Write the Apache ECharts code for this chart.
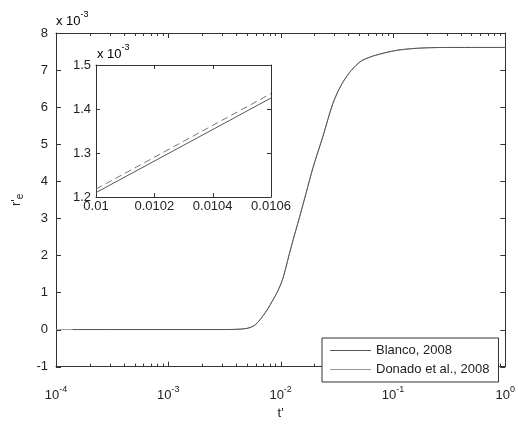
<!DOCTYPE html>
<html><head><meta charset="utf-8">
<script src="https://cdn.jsdelivr.net/npm/echarts@6/dist/echarts.min.js"></script>
<style>html,body{margin:0;padding:0;background:#fff}#c{width:518px;height:425px}</style>
</head><body><div id="c"></div>
<script>
// Main curve (t', r'_e in units of 1e-3)
const blancoT = [1.4e-4, 3e-4, 1e-3, 2e-3, 3e-3, 4e-3, 5e-3, 5.7e-3, 6.3e-3, 7e-3, 7.7e-3, 8.55e-3, 9.3e-3, 0.01, 0.0106, 0.01245, 0.0148, 0.0169, 0.0194, 0.0238, 0.0292, 0.0347, 0.041, 0.0486, 0.054, 0.07, 0.107, 0.15, 0.2, 0.3, 0.5, 1];
const blancoV = [0, 0, 0, 0, 0, 0.005, 0.03, 0.09, 0.2, 0.38, 0.56, 0.8, 1.0, 1.21, 1.425, 2.24, 3.05, 3.69, 4.36, 5.21, 6.1, 6.6, 6.93, 7.17, 7.27, 7.4, 7.53, 7.58, 7.6, 7.61, 7.61, 7.61];
const donadoT = [1e-4, 3e-4, 1e-3, 2e-3, 3e-3, 4e-3, 5e-3, 5.7e-3, 6.3e-3, 7e-3, 7.7e-3, 8.55e-3, 9.3e-3, 0.01, 0.0106, 0.01245, 0.0148, 0.0169, 0.0194, 0.0238, 0.0292, 0.0347, 0.041, 0.0486, 0.054, 0.07, 0.107, 0.15, 0.2, 0.3, 0.5, 1];
const donadoV = [0, 0, 0, 0, 0, 0.005, 0.03, 0.09, 0.2, 0.38, 0.56, 0.8, 1.0, 1.218, 1.435, 2.25, 3.06, 3.7, 4.37, 5.22, 6.1, 6.6, 6.93, 7.17, 7.27, 7.4, 7.53, 7.58, 7.6, 7.61, 7.61, 7.61];
// Inset (zoom near t' = 0.01)
const insetT = [0.01, 0.0106];
const insetBlanco = [1.21, 1.425];
const insetDonado = [1.218, 1.435];
const seriesNames = ['Blanco, 2008', 'Donado et al., 2008'];
// Tick positions
const mainXTicks = [1e-4, 1e-3, 1e-2, 1e-1, 1];
const mainXMinor = [2e-4, 3e-4, 4e-4, 5e-4, 6e-4, 7e-4, 8e-4, 9e-4,
                    2e-3, 3e-3, 4e-3, 5e-3, 6e-3, 7e-3, 8e-3, 9e-3,
                    0.02, 0.03, 0.04, 0.05, 0.06, 0.07, 0.08, 0.09,
                    0.2, 0.3, 0.4, 0.5, 0.6, 0.7, 0.8, 0.9];
const mainYTicks = [-1, 0, 1, 2, 3, 4, 5, 6, 7, 8];
const insetXTicks = [0.01, 0.0102, 0.0104, 0.0106];
const insetYTicks = [1.2, 1.3, 1.4, 1.5];

const zip = (a, b) => a.map((x, i) => [x, b[i]]);
const txt = '#222', ax = '#333';
const FONT = 'Liberation Sans, Arial, sans-serif';

const supRich = () => ({
  b: {fontSize: 13, fontFamily: FONT, color: txt, lineHeight: 16},
  s: {fontSize: 9, fontFamily: FONT, color: txt, verticalAlign: 'top', lineHeight: 22}
});
const axLine = () => ({show: true, onZero: false, lineStyle: {color: ax}});

// Draws inward ticks on all four sides of a grid through the axes' own scales
function tickRenderer(xMajor, xMinor, yMajor, xRef, yRef, majLen, minLen) {
  return function (params, api) {
    const cs = params.coordSys;
    const L = cs.x, R = cs.x + cs.width, T = cs.y, B = cs.y + cs.height;
    const kids = [];
    const seg = (x1, y1, x2, y2) => kids.push({type: 'line', silent: true,
      shape: {x1, y1, x2, y2}, style: {stroke: ax, lineWidth: 1}});
    xMajor.forEach(v => { const p = Math.round(api.coord([v, yRef])[0]) + 0.5; seg(p, B, p, B - majLen); seg(p, T, p, T + majLen); });
    xMinor.forEach(v => { const p = Math.round(api.coord([v, yRef])[0]) + 0.5; seg(p, B, p, B - minLen); seg(p, T, p, T + minLen); });
    yMajor.forEach(v => { const p = Math.round(api.coord([xRef, v])[1]) + 0.5; seg(L, p, L + majLen, p); seg(R, p, R - majLen, p); });
    return {type: 'group', children: kids};
  };
}

const chart = echarts.init(document.getElementById('c'));
chart.setOption({
  animation: false,
  grid: [
    {left: 56, top: 33, right: 12, bottom: 39},
    {left: 96, top: 65, width: 175, height: 132}
  ],
  legend: {
    data: seriesNames, orient: 'vertical', left: 322, top: 338, icon: 'rect',
    padding: [5, 9, 5, 8], itemGap: 4, itemWidth: 41, itemHeight: 1,
    borderColor: ax, borderWidth: 1, backgroundColor: '#fff', borderRadius: 0,
    textStyle: {fontSize: 13, color: txt, fontFamily: FONT, lineHeight: 15}
  },
  xAxis: [
    {type: 'log', min: 1e-4, max: 1,
     name: "t'", nameLocation: 'middle', nameGap: 25, nameTextStyle: {fontSize: 13, color: txt, fontFamily: FONT},
     axisLine: axLine(), axisTick: {show: false}, minorTick: {show: false}, splitLine: {show: false},
     axisLabel: {margin: 8, padding: [10, 0, 0, 0], formatter: v => '{b|10}{s|' + Math.round(Math.log10(v)) + '}', rich: supRich()}},
    {type: 'log', min: 1e-4, max: 1, position: 'top',
     axisLine: axLine(), axisTick: {show: false}, splitLine: {show: false}, axisLabel: {show: false}},
    {type: 'value', gridIndex: 1, min: 0.01, max: 0.0106, interval: 0.0002,
     axisLine: axLine(), axisTick: {show: false}, splitLine: {show: false},
     axisLabel: {fontSize: 13, color: txt, fontFamily: FONT, margin: 3}},
    {type: 'value', gridIndex: 1, min: 0.01, max: 0.0106, interval: 0.0002, position: 'top',
     axisLine: axLine(), axisTick: {show: false}, splitLine: {show: false}, axisLabel: {show: false}}
  ],
  yAxis: [
    {type: 'value', min: -1, max: 8, interval: 1,
     name: "{a|r'}{b|e}", nameLocation: 'middle', nameRotate: 90, nameGap: 19,
     nameTextStyle: {rich: {a: {fontSize: 13, color: txt, fontFamily: FONT, lineHeight: 18}, b: {fontSize: 10, color: txt, fontFamily: FONT, verticalAlign: 'bottom', lineHeight: 12}}},
     axisLine: axLine(), axisTick: {show: false}, splitLine: {show: false},
     axisLabel: {fontSize: 13, color: txt, fontFamily: FONT, margin: 8}},
    {type: 'value', min: -1, max: 8, interval: 1, position: 'right',
     axisLine: axLine(), axisTick: {show: false}, splitLine: {show: false}, axisLabel: {show: false}},
    {type: 'value', gridIndex: 1, min: 1.2, max: 1.5, interval: 0.1,
     axisLine: axLine(), axisTick: {show: false}, splitLine: {show: false},
     axisLabel: {fontSize: 13, color: txt, fontFamily: FONT, margin: 5}},
    {type: 'value', gridIndex: 1, min: 1.2, max: 1.5, interval: 0.1, position: 'right',
     axisLine: axLine(), axisTick: {show: false}, splitLine: {show: false}, axisLabel: {show: false}}
  ],
  graphic: [
    {type: 'text', left: 56, top: 10, z: 10, style: {text: '{b|x 10}{s|-3}', rich: supRich()}},
    {type: 'text', left: 97, top: 43, z: 10, style: {text: '{b|x 10}{s|-3}', rich: supRich()}}
  ],
  series: [
    {name: seriesNames[1], type: 'line', xAxisIndex: 0, yAxisIndex: 0, data: zip(donadoT, donadoV),
     symbol: 'none', smooth: 0.3, lineStyle: {color: '#999', width: 1}, itemStyle: {color: '#999'}},
    {name: seriesNames[0], type: 'line', xAxisIndex: 0, yAxisIndex: 0, data: zip(blancoT, blancoV),
     symbol: 'none', smooth: 0.3, lineStyle: {color: '#555', width: 1}, itemStyle: {color: '#555'}},
    {name: 'inset-b', type: 'line', xAxisIndex: 2, yAxisIndex: 2, data: zip(insetT, insetBlanco),
     symbol: 'none', lineStyle: {color: '#555', width: 1}},
    {name: 'inset-d', type: 'line', xAxisIndex: 2, yAxisIndex: 2, data: zip(insetT, insetDonado),
     symbol: 'none', lineStyle: {color: '#777', width: 1, type: [7, 4]}},
    {name: 'main-ticks', type: 'custom', xAxisIndex: 0, yAxisIndex: 0, clip: false, silent: true,
     data: [[mainXTicks[2], mainYTicks[1]]],
     renderItem: tickRenderer(mainXTicks, mainXMinor, mainYTicks, mainXTicks[0], mainYTicks[0], 5, 3)},
    {name: 'inset-ticks', type: 'custom', xAxisIndex: 2, yAxisIndex: 2, clip: false, silent: true,
     data: [[insetXTicks[1], insetYTicks[1]]],
     renderItem: tickRenderer(insetXTicks, [], insetYTicks, insetXTicks[0], insetYTicks[0], 4, 0)}
  ]
});
</script></body></html>
